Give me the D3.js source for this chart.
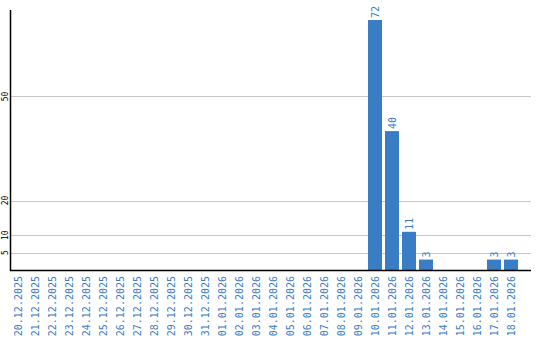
<!DOCTYPE html>
<html>
<head>
<meta charset="utf-8">
<script src="https://cdn.jsdelivr.net/npm/d3@7"></script>
<style>
    body { margin: 0; background: #fff; }
    svg { display: block; }
</style>
</head>
<body>
<div id="chart"></div>
<script>
const dates = [
    "20.12.2025", "21.12.2025", "22.12.2025", "23.12.2025", "24.12.2025",
    "25.12.2025", "26.12.2025", "27.12.2025", "28.12.2025", "29.12.2025",
    "30.12.2025", "31.12.2025", "01.01.2026", "02.01.2026", "03.01.2026",
    "04.01.2026", "05.01.2026", "06.01.2026", "07.01.2026", "08.01.2026",
    "09.01.2026", "10.01.2026", "11.01.2026", "12.01.2026", "13.01.2026",
    "14.01.2026", "15.01.2026", "16.01.2026", "17.01.2026", "18.01.2026"
];
const counts = [
    0, 0, 0, 0, 0, 0, 0, 0, 0, 0,
    0, 0, 0, 0, 0, 0, 0, 0, 0, 0,
    0, 72, 40, 11, 3, 0, 0, 0, 3, 3
];
const yTicks = [5, 10, 20, 50];

const width = 540, height = 340;
const barColor = "#3a7dc4";
const font = "'DejaVu Sans Mono', monospace";

const svg = d3.select("#chart").append("svg")
    .attr("width", width)
    .attr("height", height);

const x = d3.scaleBand()
    .domain(dates)
    .range([9.5, 519.5])
    .paddingInner(3 / 17)
    .paddingOuter(3 / 34);

const y = d3.scaleLinear()
    .domain([0, d3.max(counts)])
    .range([270, 20]);

// Gridlines
svg.selectAll(".grid")
    .data(yTicks)
    .enter()
    .append("line")
    .attr("x1", 10)
    .attr("x2", 531)
    .attr("y1", d => Math.round(y(d)) + 0.5)
    .attr("y2", d => Math.round(y(d)) + 0.5)
    .style("stroke", "#c8c8c8")
    .style("stroke-width", 1);

// Y tick labels (rotated)
svg.selectAll(".ytick")
    .data(yTicks)
    .enter()
    .append("text")
    .attr("transform", d => `translate(7.5,${y(d)}) rotate(-90)`)
    .attr("text-anchor", "middle")
    .style("font-family", font)
    .style("font-size", "8px")
    .style("fill", "#000")
    .text(d => d);

const nonZero = counts.map((v, i) => ({ date: dates[i], value: v })).filter(d => d.value > 0);

// Bars
svg.selectAll(".bar")
    .data(nonZero)
    .enter()
    .append("rect")
    .attr("x", d => x(d.date))
    .attr("y", d => y(d.value))
    .attr("width", x.bandwidth())
    .attr("height", d => y(0) - y(d.value))
    .style("fill", barColor);

// Value labels
svg.selectAll(".vlabel")
    .data(nonZero)
    .enter()
    .append("text")
    .attr("transform", d => `translate(${x(d.date) + x.bandwidth() / 2 + 3.5},${y(d.value) - 2}) rotate(-90)`)
    .attr("text-anchor", "start")
    .style("font-family", font)
    .style("font-size", "10px")
    .style("fill", barColor)
    .text(d => d.value);

// X labels
svg.selectAll(".xlabel")
    .data(dates)
    .enter()
    .append("text")
    .attr("transform", d => `translate(${x(d) + x.bandwidth() / 2 + 3.5},276) rotate(-90)`)
    .attr("text-anchor", "end")
    .style("font-family", font)
    .style("font-size", "10px")
    .style("fill", barColor)
    .text(d => d);

// Axes lines
svg.append("line")
    .attr("x1", 10.5).attr("x2", 10.5)
    .attr("y1", 10).attr("y2", 271)
    .style("stroke", "#000")
    .style("stroke-width", 1.5);

svg.append("line")
    .attr("x1", 10).attr("x2", 531)
    .attr("y1", 270.5).attr("y2", 270.5)
    .style("stroke", "#000")
    .style("stroke-width", 1.5);
</script>
</body>
</html>
